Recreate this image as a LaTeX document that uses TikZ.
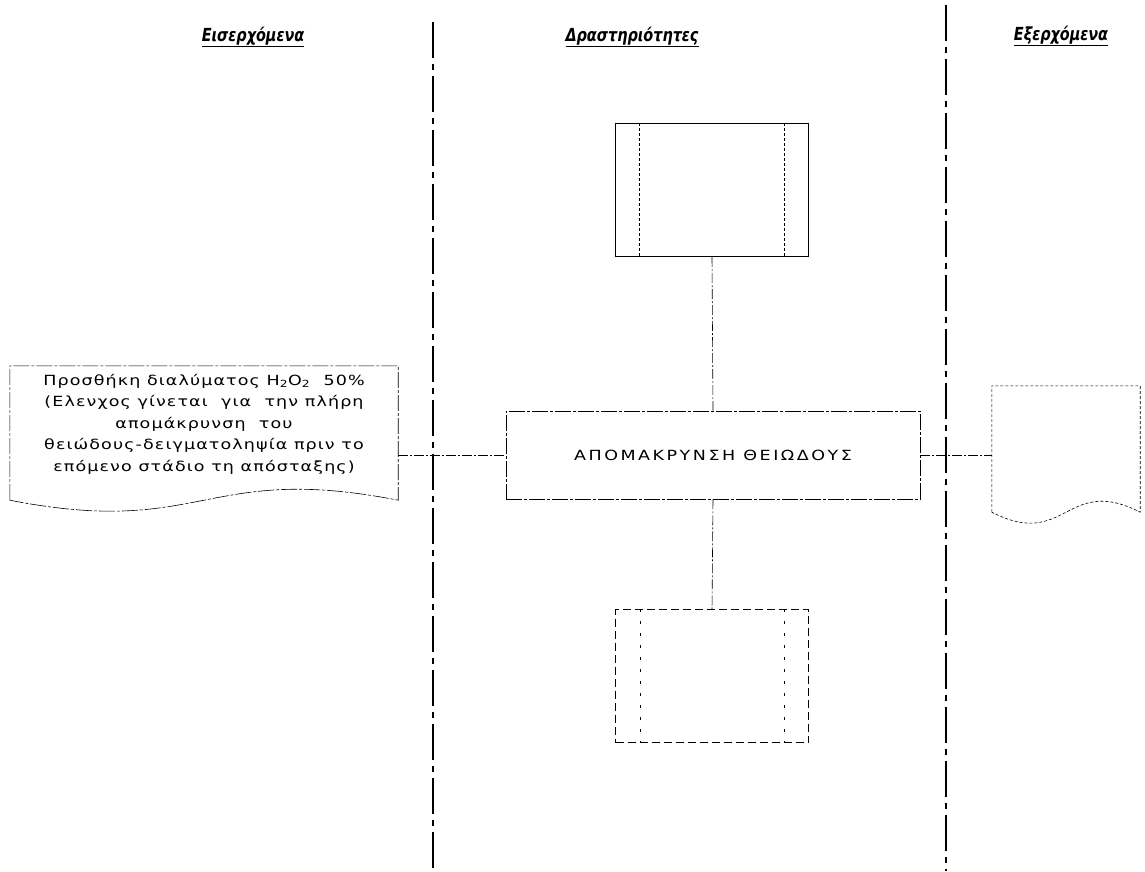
\documentclass[tikz,border=0pt]{standalone}
\usepackage{fontspec}
\setmainfont{DejaVu Sans}
\newfontfamily\bodyfont[LetterSpace=8, FakeStretch=1.25]{DejaVu Sans}
\newfontfamily\headfont[FakeStretch=0.8]{DejaVu Sans}
\usetikzlibrary{positioning}

\begin{document}
\begin{tikzpicture}[x=1pt, y=-1pt,
    lane/.style={line width=2.8pt, dash pattern=on 36pt off 6pt on 6pt off 6pt},
    heading/.style={font=\headfont\fontsize{18}{20}\selectfont\bfseries\itshape, inner sep=0pt},
    doctext/.style={font=\bodyfont\fontsize{14}{21.5}\selectfont, align=center, inner sep=0pt},
    stepbox/.style={draw, line width=0.6pt, dash pattern=on 16pt off 2pt on 3pt off 2pt, inner sep=0pt},
    wire/.style={line width=0.6pt, dash pattern=on 10pt off 2pt on 2pt off 2pt}]

  \useasboundingbox (0,0) rectangle (1145,871);

  % lane dividers
  \draw[lane] (433,22) -- (433,871);
  \draw[lane] (946,5) -- (946,871);

  % headings
  \node[heading] (inhead) at (253,37) {\underline{Εισερχόμενα}};
  \node[heading] (acthead) at (632,37) {\underline{Δραστηριότητες}};
  \node[heading] (outhead) at (1061,36) {\underline{Εξερχόμενα}};

  % input document
  \node[minimum width=388pt, minimum height=134pt, inner sep=0pt] (input) at (204,433) {};
  \draw[stepbox] (input.south west) -- (input.north west) -- (input.north east) -- (input.south east)
    .. controls ([yshift=38pt]input.south) and ([yshift=-38pt]input.south) .. (input.south west);
  \node[doctext] (intext) at ([yshift=9pt]input.center)
    {Προσθήκη διαλύματος H\textsubscript{2}O\textsubscript{2}\ \ 50\%\\
     (Ελενχος γίνεται\ \ για\ \ την πλήρη\\
     απομάκρυνση\ \ του\\
     θειώδους-δειγματοληψία πριν το\\
     επόμενο στάδιο τη απόσταξης)};

  % activity boxes
  \node[stepbox, minimum width=414pt, minimum height=88pt, doctext] (mid) at (713,455)
    {\addfontfeature{LetterSpace=18}ΑΠΟΜΑΚΡΥΝΣΗ ΘΕΙΩΔΟΥΣ};
  \node[draw, line width=1.4pt, minimum width=193pt, minimum height=133pt] (top) at (712,190) {};
  \draw[line width=0.8pt, densely dashed] ([xshift=25pt]top.north west) -- ([xshift=25pt]top.south west);
  \draw[line width=0.8pt, densely dashed] ([xshift=-25pt]top.north east) -- ([xshift=-25pt]top.south east);
  \node[draw, line width=0.6pt, dash pattern=on 8pt off 4pt, minimum width=193pt, minimum height=133pt] (bot) at (712,676) {};
  \draw[line width=0.6pt, dash pattern=on 3pt off 9pt] ([xshift=25pt]bot.north west) -- ([xshift=25pt]bot.south west);
  \draw[line width=0.6pt, dash pattern=on 3pt off 9pt] ([xshift=-25pt]bot.north east) -- ([xshift=-25pt]bot.south east);

  % output document
  \node[minimum width=148pt, minimum height=126pt, inner sep=0pt] (output) at (1066,449) {};
  \draw[line width=0.6pt, densely dashed] (output.south west) -- (output.north west) -- (output.north east) -- (output.south east)
    .. controls ([yshift=38pt]output.south) and ([yshift=-38pt]output.south) .. (output.south west);

  % connectors
  \draw[wire] (mid.west -| input.east) -- (mid.west);
  \draw[wire] (mid.east) -- (mid.east -| output.west);
  \draw[wire] (top.south) -- (mid.north);
  \draw[wire] (mid.south) -- (bot.north);
\end{tikzpicture}
\end{document}
